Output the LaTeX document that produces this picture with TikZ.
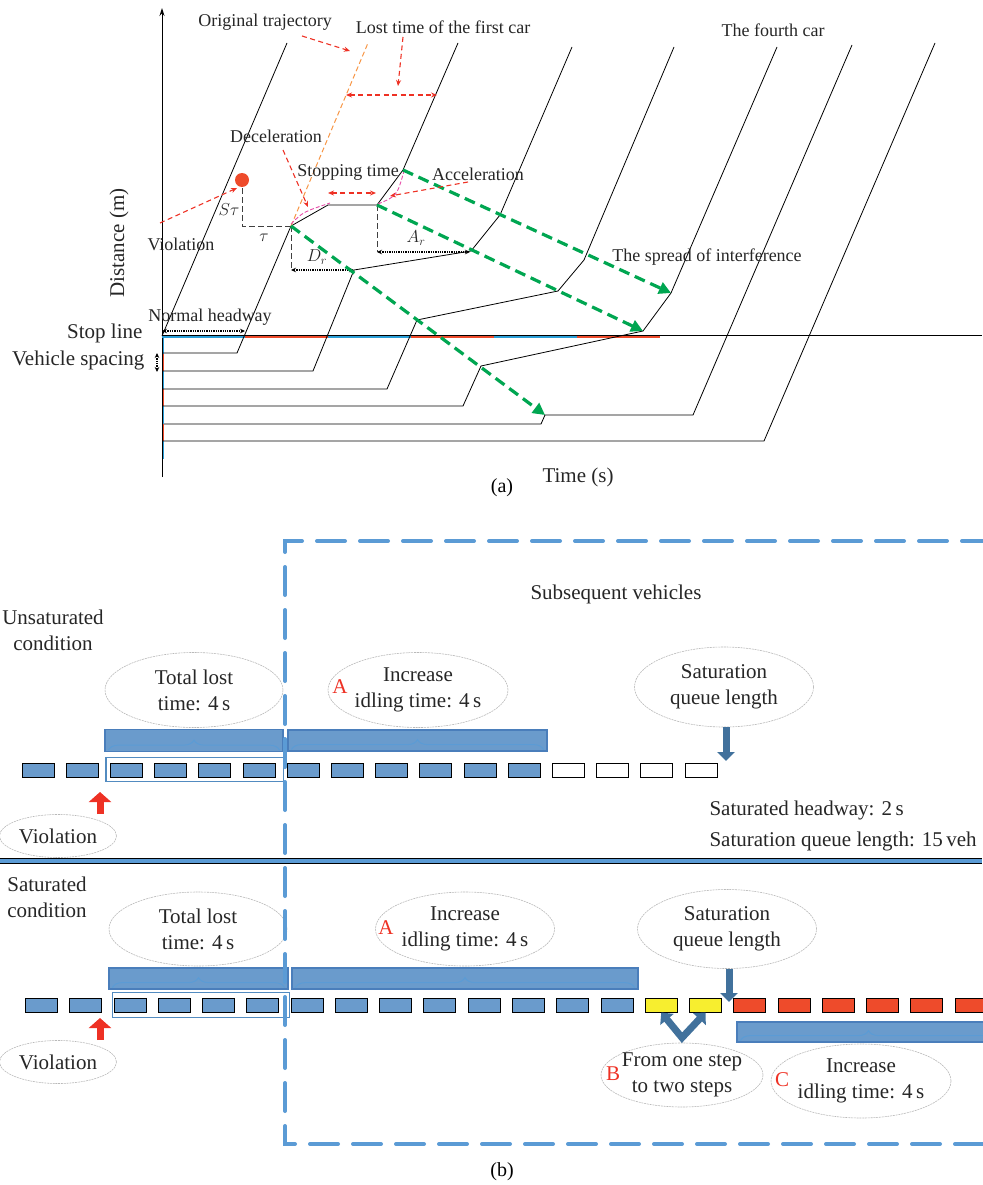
\documentclass[tikz,border=0pt]{standalone}
\usepackage{fontspec}
\setmainfont{Liberation Serif}
\usepackage{amsmath}
\usepackage{tikz}
\usetikzlibrary{arrows.meta,shapes.geometric,decorations.pathreplacing}

\definecolor{sigred}{HTML}{EE4B2B}
\definecolor{sigblue}{HTML}{2A9FD8}
\definecolor{spreadgreen}{HTML}{00A651}
\definecolor{origorange}{HTML}{F79646}
\definecolor{curvepink}{HTML}{E64CA8}
\definecolor{notered}{HTML}{EE3124}
\definecolor{vehblue}{HTML}{6A9BCC}
\definecolor{barline}{HTML}{4A7EBB}
\definecolor{framblue}{HTML}{5B9BD5}
\definecolor{pushblue}{HTML}{41719C}
\definecolor{queueyellow}{HTML}{F7EE2F}

\tikzset{
    traj/.style={line width=0.8pt},
    note/.style={font=\fontsize{18}{21}\selectfont, text=black!85},
    bigtext/.style={font=\fontsize{21}{26}\selectfont, text=black!85},
    mathlbl/.style={font=\fontsize{18}{21}\selectfont, text=black!85},
    pointer/.style={notered, line width=1.1pt, dash pattern=on 5pt off 3.5pt, -{Stealth[length=6pt,width=5pt]}},
    pointerboth/.style={pointer, {Stealth[length=6pt,width=5pt]}-{Stealth[length=6pt,width=5pt]}},
    spread/.style={spreadgreen, line width=3.2pt, dash pattern=on 11pt off 6pt, -{Triangle[length=12pt,width=12pt]}},
    helpline/.style={black!75, line width=1pt, dash pattern=on 6pt off 3pt},
    gapspan/.style={line width=1.3pt, densely dotted, {Stealth[length=5pt,width=4.5pt]}-{Stealth[length=5pt,width=4.5pt]}},
    bubble/.style={ellipse, draw=gray!55, line width=0.6pt, dash pattern=on 2pt off 0.8pt, align=center, inner sep=0pt, bigtext},
    caselabel/.style={font=\fontsize{21}{26}\selectfont, text=notered},
    veh/.style={draw=black, line width=1pt, fill=vehblue, minimum width=32pt, minimum height=14pt, inner sep=0pt},
    lossbar/.style={draw=barline, line width=1.2pt, fill=vehblue, minimum height=22pt, inner sep=0pt},
    barbrace/.style={decorate, decoration={brace, amplitude=10pt}, draw=framblue, line width=1pt},
    groupline/.style={draw=framblue!90!black, line width=1.5pt},
    queuearrow/.style={pushblue, line width=7pt, -{Triangle[length=9pt,width=17pt]}},
    violarrow/.style={notered, line width=7pt, -{Triangle[length=10pt,width=22pt]}},
    subframe/.style={framblue, line width=4pt, line cap=round, dash pattern=on 28pt off 15pt},
}

\begin{document}
\begin{tikzpicture}[x=1pt, y=-1pt]
    \useasboundingbox (0,0) rectangle (982,1185);

    % ===== (a) time-distance diagram =====
    % Axis and stop line
    \draw[line width=0.9pt, -{Stealth[length=8pt,width=5pt]}] (162,477) -- (162,8);
    \draw[line width=0.8pt] (162,335) -- (982,335);
    \foreach \i/\c in {0/sigblue,1/sigred,2/sigblue,3/sigred,4/sigblue,5/sigred}
        \draw[\c, line width=1.6pt] ({162+83*\i},337) -- ({245+83*\i},337);
    \foreach \i/\c in {0/sigblue,1/sigred,2/sigblue,3/sigred,4/sigblue,5/sigred,6/sigblue}
        \draw[\c, line width=1.6pt] (163.5,{336+17.5*\i}) -- (163.5,{353.5+17.5*\i});

    % Kinks of the trajectories
    \coordinate (k2b) at (291,226);
    \coordinate (k2c) at (328,205);
    \coordinate (k2d) at (377,205);
    \coordinate (k2e) at (403,170);
    \coordinate (k3b) at (354,270);
    \coordinate (k3c) at (471,251);
    \coordinate (k3d) at (500,215);
    \coordinate (k4b) at (417,320);
    \coordinate (k4c) at (558,291);
    \coordinate (k4d) at (584,260);
    \coordinate (k5b) at (481,366);
    \coordinate (k5c) at (643,331);
    \coordinate (k5d) at (671,293);
    \coordinate (k6b) at (545,415);
    \coordinate (k6c) at (693,415);

    % Trajectories
    \draw[traj] (162,336) -- (287,43);
    \draw[traj] (162,353) -- (237,353) -- (k2b) -- (k2c) -- (k2d) -- (k2e) -- (458,43);
    \draw[traj] (162,371) -- (313,371) -- (k3b) -- (k3c) -- (k3d) -- (572,47);
    \draw[traj] (162,389) -- (387,389) -- (k4b) -- (k4c) -- (k4d) -- (674,47);
    \draw[traj] (162,406) -- (463,406) -- (k5b) -- (k5c) -- (k5d) -- (777,47);
    \draw[traj] (164,424) -- (541,424) -- (k6b) -- (k6c) -- (852,45);
    \draw[traj] (162,441) -- (764,441) -- (935,43);

    % Original trajectory and smooth curves
    \draw[origorange, line width=1pt, dash pattern=on 5pt off 3pt] (k2b) -- (368,43);
    \draw[curvepink, line width=0.9pt, dash pattern=on 4pt off 2pt] (291,224) .. controls (303,212) .. (330,203);
    \draw[curvepink, line width=0.9pt, dash pattern=on 4pt off 2pt] (378,204) .. controls (397,196) .. (404,171);

    % Violation point
    \fill[sigred] (242,180) circle (7);
    \coordinate (dotb) at (242,188);
    \coordinate (taucorner) at (242,226);
    \draw[helpline] (dotb) -- (taucorner) -- (k2b);
    \coordinate (drfoot) at (291,270);
    \coordinate (drend) at (354,270);
    \coordinate (arfoot) at (377,252);
    \coordinate (arend) at (470,252);
    \draw[helpline] (k2b) -- (drfoot);
    \draw[helpline] (k2d) -- (arfoot);
    \draw[gapspan] (drfoot) -- (drend);
    \draw[gapspan] (arfoot) -- (arend);
    \coordinate (hwa) at (162,331);
    \coordinate (hwb) at (245,331);
    \draw[gapspan] (hwa) -- (hwb);
    \coordinate (vsa) at (157,353);
    \coordinate (vsb) at (157,372);
    \draw[gapspan] (vsa) -- (vsb);

    % Spread of interference
    \draw[spread] (k2b) -- (k6b);
    \draw[spread] (k2d) -- (k5c);
    \draw[spread] (k2e) -- (k5d);

    % Labels
    \node[note] (orig) at (265,22) {Original trajectory};
    \node[note] (lost) at (443,27) {Lost time of the first car};
    \node[note] (fourth) at (773,30) {The fourth car};
    \node[note] (decel) at (276,136) {Deceleration};
    \node[note] (stopt) at (348,172) {Stopping time};
    \node[note] (accel) at (478,174) {Acceleration};
    \node[note] (spreadlbl) at (707,257) {The spread of interference};
    \node[note] (viol) at (181,244) {Violation};
    \node[note] (headway) at (210,317) {Normal headway};
    \node[bigtext, anchor=east] (stopl) at (146,333) {Stop line};
    \node[bigtext, anchor=east] (spacing) at (148,360) {Vehicle spacing};
    \node[bigtext, rotate=90] (dist) at (119,243) {Distance (m)};
    \node[bigtext] (time) at (578,477) {Time (s)};
    \node[mathlbl] (stau) at (229,210) {$S\tau$};
    \node[mathlbl] (tau) at (264,238) {$\tau$};
    \node[mathlbl] (dr) at (317,257) {$D_r$};
    \node[mathlbl] (ar) at (416,238) {$A_r$};
    \node[font=\fontsize{20}{24}\selectfont] (laba) at (502,488) {(a)};

    % Pointers
    \coordinate (p1a) at (302,36);  \coordinate (p1b) at (350,51);
    \coordinate (p2a) at (403,37);  \coordinate (p2b) at (398,86);
    \coordinate (p3a) at (346,95);  \coordinate (p3b) at (437,95);
    \coordinate (p4a) at (283,150); \coordinate (p4b) at (308,207);
    \coordinate (p5a) at (328,193); \coordinate (p5b) at (376,193);
    \coordinate (p6a) at (468,182); \coordinate (p6b) at (390,196);
    \coordinate (p7a) at (160,223); \coordinate (p7b) at (237,188);
    \draw[pointer] (p1a) -- (p1b);
    \draw[pointer] (p2a) -- (p2b);
    \draw[pointerboth] (p3a) -- (p3b);
    \draw[pointer] (p4a) -- (p4b);
    \draw[pointerboth] (p5a) -- (p5b);
    \draw[pointer] (p6a) -- (p6b);
    \draw[pointer] (p7a) -- (p7b);

    % ===== (b) queue scheme =====
    % Separator
    \draw[framblue, line width=4pt] (0,860.5) -- (982,860.5);
    \draw[line width=0.8pt] (0,858) -- (982,858) (0,863) -- (982,863);

    % Titles
    \node[bigtext] (subseq) at (616,594) {Subsequent vehicles};
    \node[bigtext, align=center] (unsat) at (53,630) {Unsaturated\\condition};
    \node[bigtext, align=center] (sat) at (47,897) {Saturated\\condition};
    \node[bigtext, anchor=west, align=left] (satinfo) at (706,826)
        {Saturated headway: 2\,s\\[5pt]Saturation queue length: 15\,veh};

    % Unsaturated queue
    \node[lossbar, minimum width=178pt] (lbU1) at (194,740.5) {};
    \node[lossbar, minimum width=259pt, minimum height=21pt] (lbU2) at (417.5,740.5) {};
    \foreach \i in {1,...,12}
        \node[veh] (u\i) at ({38+44.2*(\i-1)},770) {};
    \foreach \i in {13,...,16}
        \node[veh, fill=white] (u\i) at ({38+44.2*(\i-1)},770) {};
    \draw[groupline] ([shift={(-4pt,5pt)}]u3.north west) rectangle ([shift={(8pt,-4pt)}]u6.south east);
    \node[bubble, minimum width=178pt, minimum height=75pt] (tlU) at (194,690) {Total lost\\time: 4\,s};
    \node[bubble, minimum width=180pt, minimum height=75pt] (idU) at (418,690) {Increase\\idling time: 4\,s};
    \node[caselabel] (aU) at (340,687) {A};
    \node[bubble, minimum width=179pt, minimum height=80pt] (satU) at (724,687) {Saturation\\queue length};
    \node[bubble, minimum width=117pt, minimum height=43pt] (viU) at (58,836) {Violation};
    \coordinate (qU) at (726,761);
    \draw[queuearrow] (qU |- satU.south) -- (qU);
    \coordinate (vU) at (100,792);
    \draw[violarrow] (vU |- viU.north) -- (vU);

    % Saturated queue
    \node[lossbar, minimum width=179pt, minimum height=21pt] (lbS1) at (198.5,978.5) {};
    \node[lossbar, minimum width=346pt, minimum height=21pt] (lbS2) at (465,978.5) {};
    \node[lossbar, minimum width=263pt, minimum height=20pt] (lbS3) at (868.5,1032) {};
    \foreach \i in {1,...,14}
        \node[veh] (s\i) at ({41.5+44.27*(\i-1)},1005) {};
    \foreach \i in {15,16}
        \node[veh, fill=queueyellow] (s\i) at ({41.5+44.27*(\i-1)},1005) {};
    \foreach \i in {17,...,22}
        \node[veh, fill=sigred] (s\i) at ({41.5+44.27*(\i-1)},1005) {};
    \draw[groupline] ([shift={(-1pt,5pt)}]s3.north west) rectangle ([shift={(10pt,-5pt)}]s6.south east);
    \node[bubble, minimum width=178pt, minimum height=74pt] (tlS) at (198,929) {Total lost\\time: 4\,s};
    \node[bubble, minimum width=179pt, minimum height=74pt] (idS) at (465,929) {Increase\\idling time: 4\,s};
    \node[caselabel] (aS) at (386,928) {A};
    \node[bubble, minimum width=179pt, minimum height=79pt] (satS) at (727,929) {Saturation\\queue length};
    \node[bubble, minimum width=117pt, minimum height=43pt] (viS) at (58,1062) {Violation};
    \node[bubble, inner xsep=-6pt, minimum width=162pt, minimum height=64pt] (stepB) at (682,1075) {From one step\\to two steps};
    \node[caselabel] (bS) at (613,1074) {B};
    \node[bubble, minimum width=180pt, minimum height=74pt] (idC) at (861,1081) {Increase\\idling time: 4\,s};
    \node[caselabel] (cS) at (782,1080) {C};
    \coordinate (qS) at (729,1002);
    \draw[queuearrow] (qS |- satS.south) -- (qS);
    \coordinate (vS) at (100,1018);
    \draw[violarrow] (vS |- viS.north) -- (vS);
    \draw[pushblue, line width=7pt, line join=miter, {Triangle[length=9pt,width=17pt]}-{Triangle[length=9pt,width=17pt]}]
        (s15.south) -- ([yshift=5pt]stepB.north) -- (s16.south);

    % Braces inside the bars
    \foreach \b in {lbU1,lbU2,lbS1,lbS2,lbS3}
        \draw[barbrace] ([shift={(4pt,2pt)}]\b.south west) -- ([shift={(-4pt,2pt)}]\b.south east);

    % Frame of the subsequent vehicles
    \draw[subframe] (990,541) -- (285,541) -- (285,1144) -- (990,1144);
    \node[font=\fontsize{20}{24}\selectfont] (labb) at (502,1172) {(b)};
\end{tikzpicture}
\end{document}
